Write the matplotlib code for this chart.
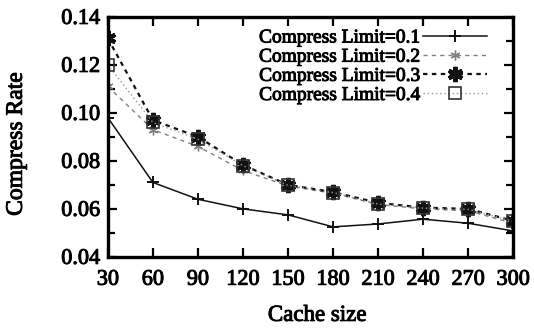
import numpy as np
import matplotlib
matplotlib.use('Agg')
import matplotlib.pyplot as plt
import matplotlib.patheffects as pe
from matplotlib.ticker import MultipleLocator

# cache sizes and compress rates
cache_size = [30, 60, 90, 120, 150, 180, 210, 240, 270, 300]
limit_01 = [0.098, 0.071, 0.064, 0.060, 0.0575, 0.0525, 0.0537, 0.0557, 0.054, 0.0508]
limit_02 = [0.111, 0.093, 0.086, 0.076, 0.0695, 0.0665, 0.0618, 0.0600, 0.0592, 0.0540]
limit_03 = [0.131, 0.097, 0.090, 0.0783, 0.070, 0.067, 0.0625, 0.0605, 0.060, 0.055]
limit_04 = [0.120, 0.096, 0.089, 0.078, 0.0698, 0.0668, 0.0620, 0.0603, 0.0598, 0.0548]
labels = ['Compress Limit=0.1', 'Compress Limit=0.2', 'Compress Limit=0.3', 'Compress Limit=0.4']

plt.rcParams['font.family'] = ['Liberation Serif', 'DejaVu Serif']

f = plt.figure(figsize=(5.34, 3.31), dpi=100)
ax = f.add_axes([0.202, 0.224, 0.759, 0.725])

ax.plot(cache_size, limit_01, color='#111111', lw=1.1, ls='-', marker='+', ms=8, mew=1.4, label=labels[0])
ax.plot(cache_size, limit_02, color='#808080', lw=1.0, ls=(0, (3, 3)), marker=(6, 2, 0), ms=7, mew=1.0, label=labels[1])
ax.plot(cache_size, limit_03, color='#111111', lw=1.6, ls=(0, (2, 2)), marker=(6, 2, 0), ms=11, mew=3.0, label=labels[2])
ax.plot(cache_size, limit_04, color='#999999', lw=1.0, ls=(0, (1, 2)), marker='s', ms=9, mfc='none', mec='#333333', mew=1.2, label=labels[3])

ax.set_xlim(30, 300)
ax.set_ylim(0.04, 0.14)
ax.set_xticks(cache_size)
ax.set_yticks([0.04, 0.06, 0.08, 0.10, 0.12, 0.14])
ax.set_yticklabels(['0.04', '0.06', '0.08', '0.10', '0.12', '0.14'])
ax.yaxis.set_minor_locator(MultipleLocator(0.01))
ax.tick_params(axis='both', which='both', direction='in', top=True, right=True, width=1.6)
ax.tick_params(axis='both', which='major', length=6.5, labelsize=16)
ax.tick_params(axis='x', which='major', pad=10)
ax.tick_params(axis='y', which='major', pad=5.5)
ax.tick_params(axis='both', which='minor', length=5)
for sp in ax.spines.values():
    sp.set_linewidth(2.4)

ax.set_xlabel('Cache size', fontsize=16.5)
ax.set_ylabel('Compress Rate', fontsize=17)
ax.xaxis.set_label_coords(0.516, -0.2)
ax.yaxis.set_label_coords(-0.2, 0.47)

leg = ax.legend(loc='upper right', frameon=False, markerfirst=False, fontsize=14,
                handlelength=3.3, handletextpad=0.1, labelspacing=0.08,
                borderaxespad=0.0, borderpad=0.0, bbox_to_anchor=(0.936, 0.95))

# scanned print look: slightly heavier text strokes
thick = [pe.withStroke(linewidth=0.7, foreground='black')]
for t in ax.get_xticklabels() + ax.get_yticklabels() + leg.get_texts():
    t.set_path_effects(thick)
ax.xaxis.label.set_path_effects(thick)
ax.yaxis.label.set_path_effects(thick)

f.savefig('out.png', dpi=100)
